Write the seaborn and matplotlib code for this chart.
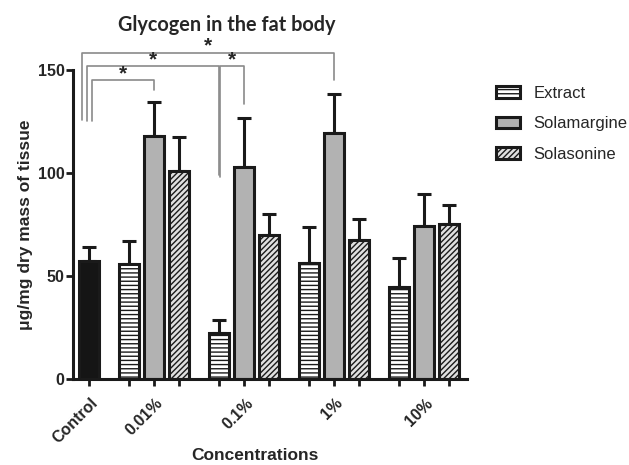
import matplotlib
matplotlib.use("Agg")
import matplotlib.pyplot as plt
import seaborn as sns
import pandas as pd
import numpy as np
from matplotlib.patches import Patch

# ---- data ----
groups = ["0.01%", "0.1%", "1%", "10%"]
series = ["Extract", "Solamargine", "Solasonine"]
control_mean = 57.3
control_err = 6.6
extract_mean = [55.7, 22.5, 56.1, 44.8]
extract_err = [11.4, 6.1, 17.8, 14.1]
solamargine_mean = [117.9, 103.0, 119.2, 74.3]
solamargine_err = [16.4, 23.5, 19.1, 15.4]
solasonine_mean = [101.1, 69.7, 67.5, 75.2]
solasonine_err = [16.2, 10.4, 10.3, 9.3]
tick_labels = ["Control"] + groups

# significance brackets: (left bar, right bar, height, left drop, right drop)
brackets = [
    (("Control", None), ("1%", "Solamargine"), 158.4, 125.7, 145.0),
    (("Control", None), ("0.1%", "Extract"), 151.9, 125.4, 99.0),
    (("Control", None), ("0.01%", "Solamargine"), 145.0, 125.4, 140.5),
    (("0.1%", "Extract"), ("0.1%", "Solamargine"), 151.9, 98.2, 133.5),
]
bracket_left_offsets = [-0.27, -0.07, 0.11, 0.03]

# ---- layout helpers ----
group_gap = 3.6
first_group = 2.6
offsets = {"Extract": -1.0, "Solamargine": 0.0, "Solasonine": 1.0}

def pos(group, ser):
    if group == "Control":
        return 0.0
    return first_group + group_gap * groups.index(group) + offsets[ser]

rows = [("Control", "Control", control_mean, control_err)]
means = {"Extract": extract_mean, "Solamargine": solamargine_mean, "Solasonine": solasonine_mean}
errs = {"Extract": extract_err, "Solamargine": solamargine_err, "Solasonine": solasonine_err}
for gi, g in enumerate(groups):
    for s in series:
        rows.append((g, s, means[s][gi], errs[s][gi]))
df = pd.DataFrame(rows, columns=["group", "series", "value", "err"])
df["x"] = [pos(g, s) for g, s in zip(df["group"], df["series"])]
df = df.sort_values("x").reset_index(drop=True)

sns.set_style("ticks")
plt.rcParams["font.family"] = ["Liberation Sans", "DejaVu Sans"]
plt.rcParams["hatch.linewidth"] = 1.0

fig = plt.figure(figsize=(6.29, 4.65), dpi=100)
ax = fig.add_axes([73 / 629, 1 - 379 / 465, (467 - 73) / 629, (379 - 70) / 465])

sns.barplot(data=df, x="x", y="value", native_scale=True, width=0.8,
            errorbar=None, color="white", ax=ax, zorder=2)

styles = {
    "Control": dict(facecolor="#151515", hatch=None),
    "Extract": dict(facecolor="white", hatch="----"),
    "Solamargine": dict(facecolor="#b2b2b2", hatch=None),
    "Solasonine": dict(facecolor="#e0e0e0", hatch="//////"),
}
for patch, s in zip(ax.patches, df["series"]):
    st = styles[s]
    patch.set_facecolor(st["facecolor"])
    patch.set_edgecolor("#1a1a1a")
    patch.set_linewidth(2.2)
    if st["hatch"]:
        patch.set_hatch(st["hatch"])

ax.errorbar(df["x"], df["value"], yerr=[np.zeros(len(df)), df["err"]],
            fmt="none", ecolor="#1a1a1a", elinewidth=2.2, capsize=5, capthick=2.2, zorder=1)

ax.set_ylim(0, 150)
ax.set_xlim(-0.64, 15.12)
ax.set_yticks([0, 50, 100, 150])
ax.set_xticks(df["x"])
lab_pos = [pos("Control", None)] + [pos(g, "Solamargine") for g in groups]
ax.set_xticklabels(["" for _ in df["x"]])
for lp, lt in zip(lab_pos, tick_labels):
    ax.text(lp + 0.05, -8, lt, rotation=45, ha="right", va="top", rotation_mode="anchor",
            fontsize=11.5, fontweight="bold", transform=ax.transData)
ax.tick_params(axis="both", width=2, length=5, color="#1a1a1a", labelsize=11.5)
ax.tick_params(axis="y", pad=1)
for lbl in ax.get_yticklabels():
    lbl.set_fontweight("bold")
for side in ["top", "right"]:
    ax.spines[side].set_visible(False)
for side in ["left", "bottom"]:
    ax.spines[side].set_linewidth(2.2)
    ax.spines[side].set_color("#1a1a1a")
ax.set_xlabel("")
ax.set_ylabel("")

# brackets
for (l, r, h, ld, rd), lo in zip(brackets, bracket_left_offsets):
    xl = pos(*l) + lo
    xr = pos(*r)
    ax.plot([xl, xl, xr, xr], [ld, h, h, rd], color="#8a8a8a", lw=1.2, clip_on=False, zorder=3)
    ax.text((xl + xr) / 2, h - 1.5, "*", ha="center", va="bottom", fontsize=15,
            fontweight="bold", clip_on=False)

fig.text(227 / 629, 1 - 25 / 465, "Glycogen in the fat body", ha="center", va="center",
         fontsize=14.3, fontweight="bold", family=["Lato", "DejaVu Sans"])
fig.text(26 / 629, 1 - 225 / 465, "μg/mg dry mass of tissue", ha="center", va="center",
         rotation=90, fontsize=12.5, fontweight="bold")
fig.text(255 / 629, 1 - 455 / 465, "Concentrations", ha="center", va="center",
         fontsize=12.5, fontweight="bold")

handles = [Patch(facecolor=styles[s]["facecolor"], edgecolor="#1a1a1a", linewidth=2.2,
                 hatch=styles[s]["hatch"]) for s in series]
fig.legend(handles, series, loc="upper left", bbox_to_anchor=(496 / 629, 1 - 86 / 465),
           frameon=False, fontsize=12, handlelength=1.45, handleheight=0.7,
           handletextpad=0.8, labelspacing=0.92, borderpad=0, borderaxespad=0)

fig.savefig("out.png", dpi=100)
